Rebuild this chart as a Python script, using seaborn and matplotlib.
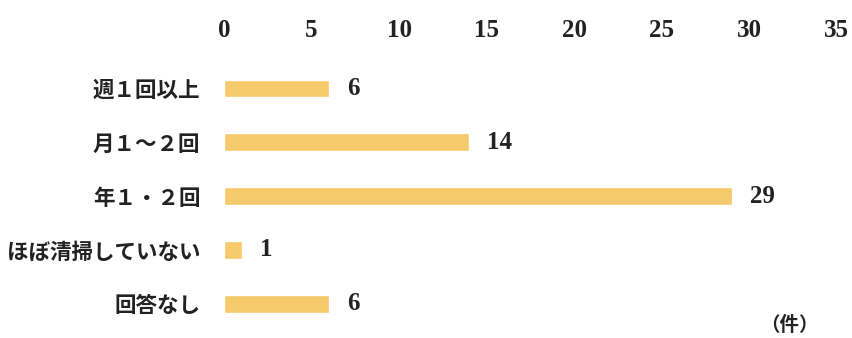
import matplotlib
matplotlib.use("Agg")
import matplotlib.pyplot as plt
import seaborn as sns
import pandas as pd

# Survey answers: how often cleaning is done (number of responses)
categories = ["週１回以上", "月１～２回", "年１・２回", "ほぼ清掃していない", "回答なし"]
counts = [6, 14, 29, 1, 6]
x_ticks = [0, 5, 10, 15, 20, 25, 30, 35]
unit_label = "（件）"

sns.set_theme(style="white")
plt.rcParams["font.family"] = ["Noto Sans CJK JP", "DejaVu Sans"]

df = pd.DataFrame({"category": categories, "count": counts})

fig = plt.figure(figsize=(8.52, 3.38), dpi=100)
ax = fig.add_axes([0.263, 0.005, 0.719, 0.83])

sns.barplot(data=df, x="count", y="category", orient="h", order=categories,
            color="#F6C96B", saturation=1, width=0.32, ax=ax)

ax.set_xlim(0, 35)
ax.set_ylim(4.6, -0.6)
ax.set_xticks(x_ticks)
ax.xaxis.tick_top()
ax.tick_params(axis="x", length=0, pad=10, labelsize=18, labelcolor="#222222")
ax.tick_params(axis="y", length=0, pad=17, labelsize=15.5, labelcolor="#222222")
for lbl in ax.get_xticklabels():
    lbl.set_fontfamily("Liberation Serif")
    lbl.set_fontweight("bold")
for lbl in ax.get_yticklabels():
    lbl.set_fontweight("bold")
ax.set_xlabel("")
ax.set_ylabel("")
for s in ax.spines.values():
    s.set_visible(False)

# Value labels to the right of each bar
for i, v in enumerate(counts):
    ax.annotate(str(v), xy=(v, i), xytext=(13, 0), textcoords="offset points",
                ha="left", va="center", fontsize=18, color="#222222",
                fontfamily="Liberation Serif", fontweight="bold")

fig.text(0.927, 0.038, unit_label, ha="center", va="center", fontsize=14,
         color="#222222", fontweight="bold")

fig.savefig("out.png", dpi=100, facecolor="white")
